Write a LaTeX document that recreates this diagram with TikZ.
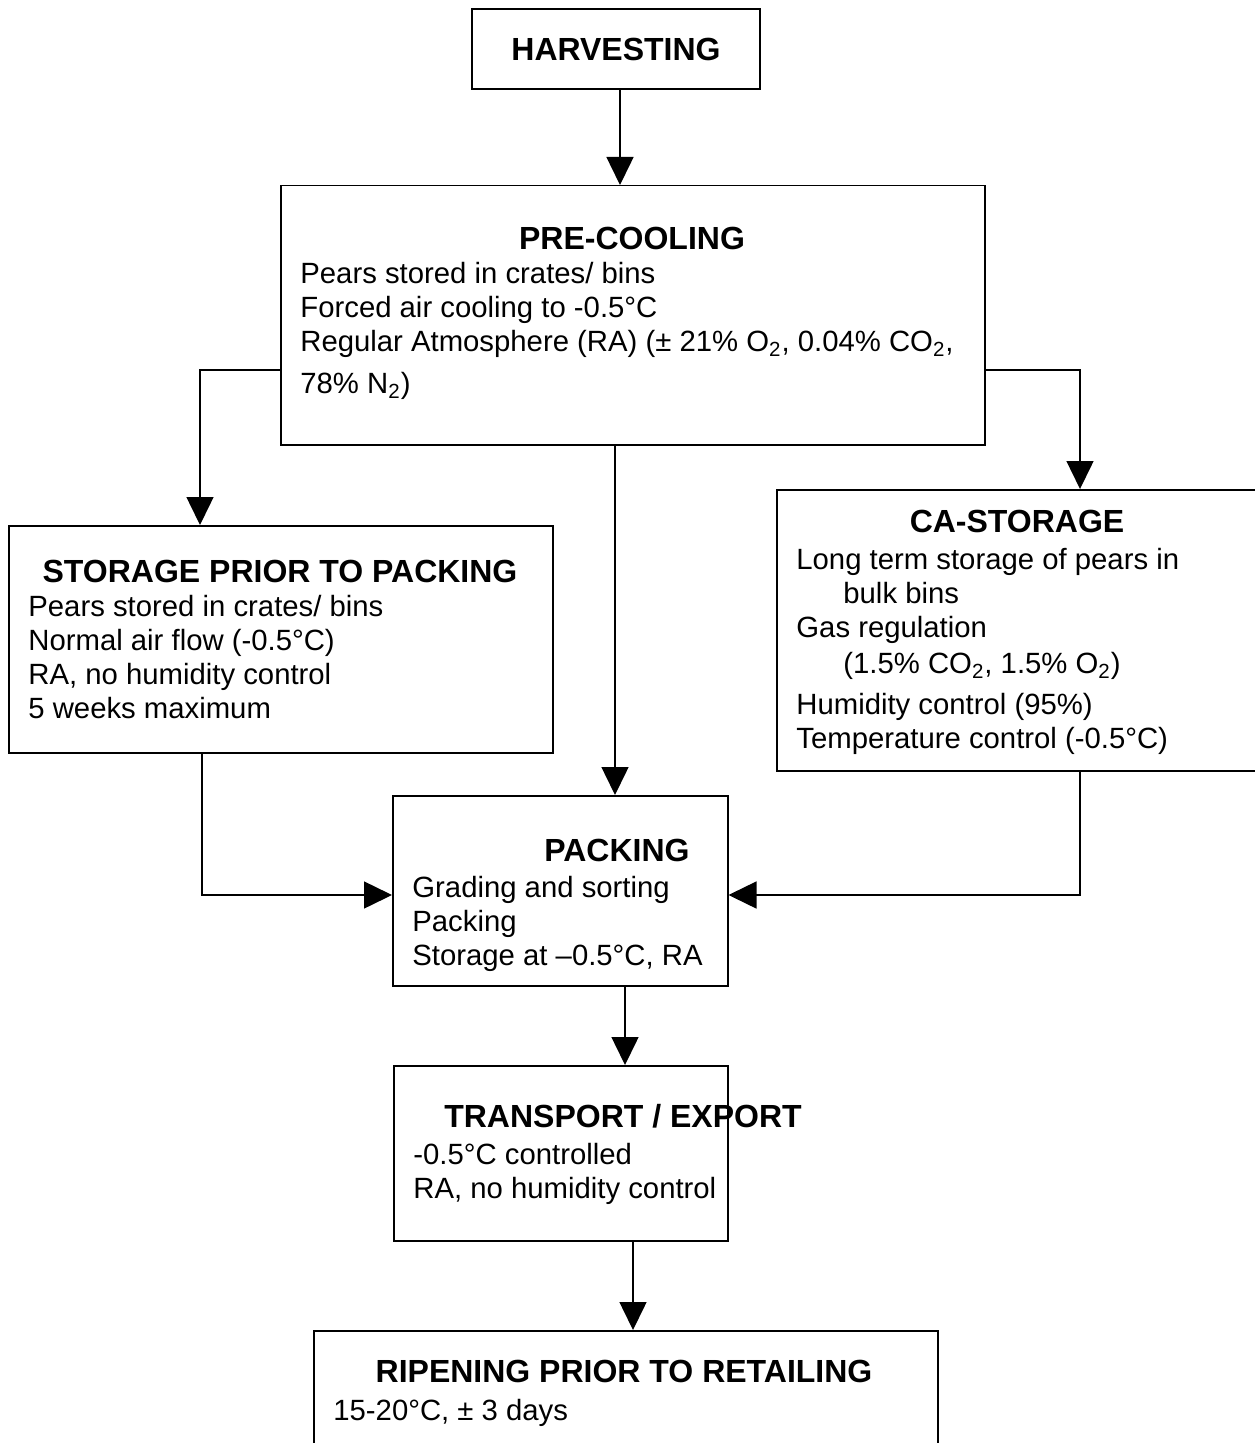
\documentclass[tikz,border=0pt]{standalone}
\usepackage{fontspec}
\setmainfont{Liberation Sans}
\usetikzlibrary{arrows.meta}
\tikzset{
    box/.style={draw, line width=0.75pt, inner sep=0pt, anchor=north west},
    head/.style={font=\fontsize{16}{19}\selectfont\bfseries, inner sep=0pt, anchor=base},
    body/.style={font=\fontsize{14.65}{17}\selectfont, align=left, inner sep=0pt, anchor=north west},
    arr/.style={line width=0.75pt, -{Triangle[length=14pt,width=13.5pt]}}
}
\begin{document}
\begin{tikzpicture}[x=0.5pt,y=-0.5pt]
                \useasboundingbox (0,0) rectangle (1254,1443);
                % boxes
                \node[box, minimum width=144pt, minimum height=40pt, font=\fontsize{16}{19}\selectfont\bfseries, anchor=center] (harvest) at (616,49) {HARVESTING};
                \node[box, minimum width=352pt, minimum height=129.5pt] (pre) at (280,185) {};
                \node[box, minimum width=272pt, minimum height=113.5pt] (storage) at (8,525) {};
                \node[box, minimum width=242pt, minimum height=140.5pt] (ca) at (776,489) {};
                \node[box, minimum width=167.5pt, minimum height=95pt] (packing) at (392,795) {};
                \node[box, minimum width=167pt, minimum height=87.5pt] (transport) at (393,1065) {};
                \node[box, minimum width=312pt, minimum height=70pt] (ripening) at (313,1330) {};
                % texts
                \node[head] (preT) at (632,250) {PRE-COOLING};
                \node[body] (preB) at (300,262) {Pears stored in crates/ bins\\
                    Forced air cooling to -0.5°C\\
                    Regular Atmosphere (RA) (± 21\% O\textsubscript{2}, 0.04\% CO\textsubscript{2},\\[4pt]
                    78\% N\textsubscript{2})};
                \node[head] (storageT) at (280,582) {STORAGE PRIOR TO PACKING};
                \node[body] (storageB) at (28,595) {Pears stored in crates/ bins\\
                    Normal air flow (-0.5°C)\\
                    RA, no humidity control\\
                    5 weeks maximum};
                \node[head] (caT) at (1017,532) {CA-STORAGE};
                \node[body] (caB) at (796,548) {Long term storage of pears in\\
                    \hspace*{23.5pt}bulk bins\\
                    Gas regulation\\[1pt]
                    \hspace*{23.5pt}(1.5\% CO\textsubscript{2}, 1.5\% O\textsubscript{2})\\[3.5pt]
                    Humidity control (95\%)\\
                    Temperature control (-0.5°C)};
                \node[head] (packingT) at (617,861) {PACKING};
                \node[body] (packingB) at (412,876) {Grading and sorting\\
                    Packing\\
                    Storage at –0.5°C, RA};
                \node[head] (transportT) at (623,1127) {TRANSPORT / EXPORT};
                \node[body] (transportB) at (413,1143) {-0.5°C controlled\\
                    RA, no humidity control};
                \node[head] (ripeningT) at (624,1382) {RIPENING PRIOR TO RETAILING};
                \node[body] (ripeningB) at (333,1399) {15-20°C, ± 3 days};
                % bends
                \coordinate (preL) at (200,370);
                \coordinate (preR) at (1080,370);
                \coordinate (stoB) at (202,895);
                \coordinate (caB2) at (1080,895);
                \coordinate (x1) at (615,0);
                \coordinate (x2) at (625,0);
                \coordinate (x3) at (633,0);
                % arrows
                \draw[arr] ([xshift=2pt]harvest.south) -- ([xshift=2pt]harvest.south |- pre.north);
                \draw[arr] (pre.west |- preL) -- (preL) -- (preL |- storage.north);
                \draw[arr] (pre.east |- preR) -- (preR) -- (preR |- ca.north);
                \draw[arr] (pre.south -| x1) -- (packing.north -| x1);
                \draw[arr] (storage.south -| stoB) -- (stoB) -- (packing.west |- stoB);
                \draw[arr] (ca.south -| caB2) -- (caB2) -- (packing.east |- caB2);
                \draw[arr] (packing.south -| x2) -- (transport.north -| x2);
                \draw[arr] (transport.south -| x3) -- (ripening.north -| x3);
\end{tikzpicture}
\end{document}
